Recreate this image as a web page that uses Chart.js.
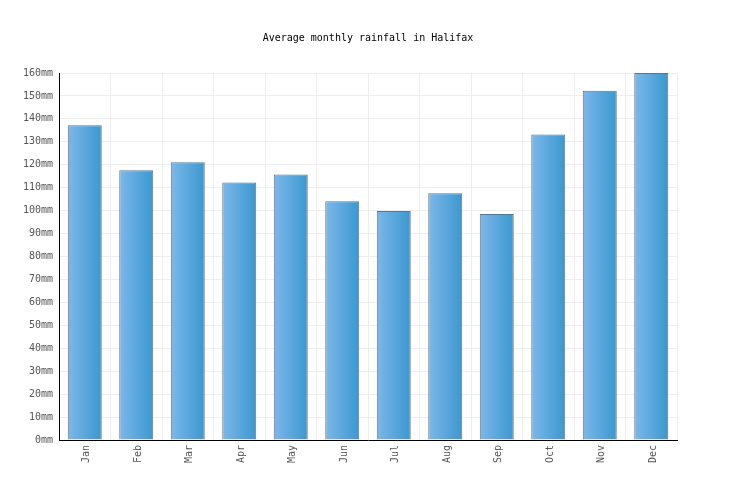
<!DOCTYPE html>
<html>
<head>
<meta charset="utf-8">
<script src="https://cdn.jsdelivr.net/npm/chart.js@4"></script>
<style>
html,body{margin:0;padding:0;background:#fff;}
#wrap{width:736px;height:500px;}
</style>
</head>
<body>
<div id="wrap"><canvas id="c" width="736" height="500"></canvas></div>
<script>
const months = ["Jan","Feb","Mar","Apr","May","Jun","Jul","Aug","Sep","Oct","Nov","Dec"];
const rainfall = [137.2, 117.6, 121.1, 112.3, 115.8, 104.1, 99.8, 107.6, 98.5, 133.2, 152.3, 160.0];
const yTicks = [0,10,20,30,40,50,60,70,80,90,100,110,120,130,140,150,160];
const titleText = "Average monthly rainfall in Halifax";

const FONT = "'DejaVu Sans Mono', monospace";
const CAT_PCT = 0.66;

function barGradient(context) {
  const chart = context.chart;
  const xs = chart.scales.x;
  if (!xs || !chart.chartArea) return '#5aa8dc';
  const cx = xs.getPixelForValue(context.dataIndex);
  const w = (xs.width / months.length) * CAT_PCT;
  const g = chart.ctx.createLinearGradient(cx - w / 2, 0, cx + w / 2, 0);
  g.addColorStop(0, '#7db7ea');
  g.addColorStop(1, '#3a98cf');
  return g;
}

new Chart(document.getElementById('c'), {
  type: 'bar',
  data: {
    labels: months,
    datasets: [{
      data: rainfall,
      backgroundColor: barGradient,
      borderColor: '#707070',
      borderWidth: 1,
      categoryPercentage: CAT_PCT,
      barPercentage: 1.0
    }]
  },
  options: {
    responsive: false,
    animation: false,
    devicePixelRatio: 1,
    layout: { padding: 0 },
    plugins: {
      legend: { display: false },
      tooltip: { enabled: false },
      title: {
        display: true,
        text: titleText,
        color: '#000',
        font: { family: FONT, size: 10, weight: 'normal' },
        padding: { top: 32, bottom: 29 }
      }
    },
    scales: {
      x: {
        grid: { display: true, color: '#eeeeee', offset: true, drawTicks: false },
        border: { display: true, color: '#000', width: 1 },
        ticks: {
          color: '#555',
          font: { family: FONT, size: 10 },
          maxRotation: 90,
          minRotation: 90,
          padding: 5,
          labelOffset: 2,
          autoSkip: false
        },
        afterFit(scale) { scale.height = 60; }
      },
      y: {
        min: 0,
        max: 160,
        afterBuildTicks(scale) { scale.ticks = yTicks.map(v => ({ value: v })); },
        grid: { color: '#eeeeee', drawTicks: false },
        border: { display: true, color: '#000', width: 1 },
        ticks: {
          color: '#555',
          font: { family: FONT, size: 10 },
          padding: 6,
          callback: v => v + 'mm'
        },
        afterFit(scale) { scale.width = 59; }
      },
      yRight: {
        position: 'right',
        display: true,
        min: 0,
        max: 160,
        grid: { display: false, drawTicks: false },
        border: { display: false },
        ticks: { display: false },
        afterFit(scale) { scale.width = 59; }
      }
    }
  }
});
</script>
</body>
</html>
